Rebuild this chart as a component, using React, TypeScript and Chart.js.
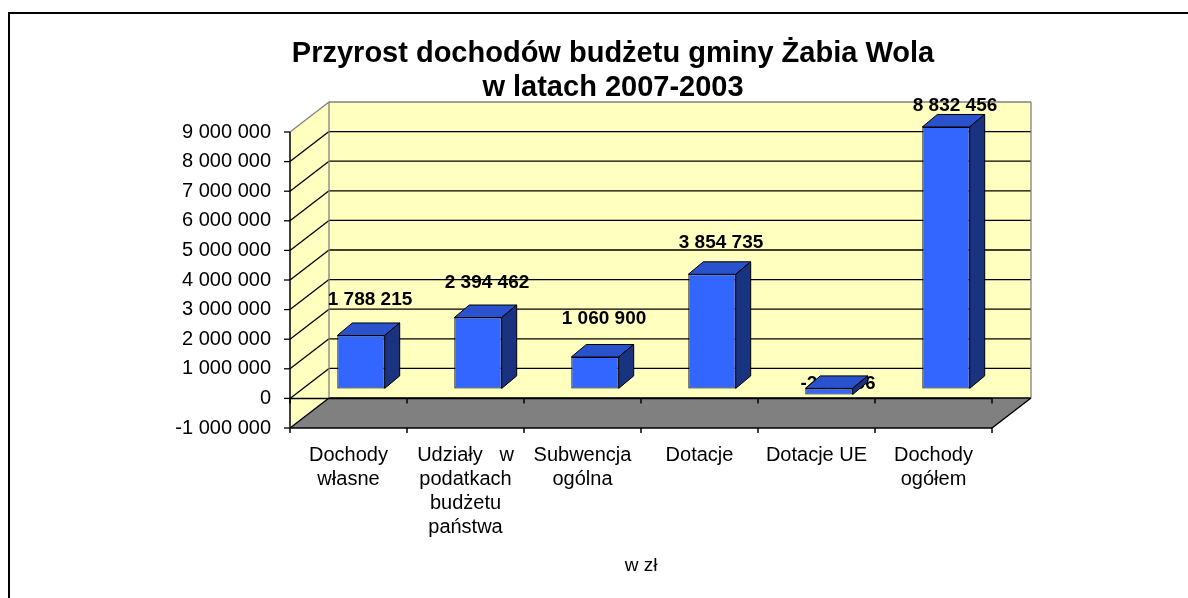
import React, { useEffect, useRef } from "react";
import { Chart, registerables } from "chart.js";

Chart.register(...registerables);

// ---- data ----
const titleLines = ["Przyrost dochodów budżetu gminy Żabia Wola", "w latach 2007-2003"];
const categories: string[][] = [
  ["Dochody", "własne"],
  ["Udziały   w", "podatkach", "budżetu", "państwa"],
  ["Subwencja", "ogólna"],
  ["Dotacje"],
  ["Dotacje UE"],
  ["Dochody", "ogółem"],
];
const values = [1788215, 2394462, 1060900, 3854735, -205256, 8832456];
const yMin = -1000000;
const yMax = 9000000;
const yStep = 1000000;
const axisTitle = "w zł";

// ---- styling / geometry ----
const FONT = "'Liberation Sans', Arial, sans-serif";
const WALL_DX = 39;
const WALL_DY = -30;
const BAR_FX = 12.5;
const BAR_FY = -10;
const BAR_DX = 15;
const BAR_DY = -12.5;
const WALL_COLOR = "#FFFFC0";
const FLOOR_COLOR = "#808080";
const EDGE_GRAY = "#808080";
const BAR_FRONT = "#3366FF";
const BAR_TOP = "#2952CC";
const BAR_SIDE = "#1A3380";

const fmt = (v: number) => {
  const s = Math.abs(Math.round(v))
    .toString()
    .replace(/\B(?=(\d{3})+(?!\d))/g, " ");
  return (v < 0 ? "-" : "") + s;
};

const line = (ctx: CanvasRenderingContext2D, x1: number, y1: number, x2: number, y2: number) => {
  ctx.beginPath();
  ctx.moveTo(x1, y1);
  ctx.lineTo(x2, y2);
  ctx.stroke();
};

const threeD = {
  id: "threeD",
  beforeDraw(chart: any) {
    const ctx = chart.ctx as CanvasRenderingContext2D;
    ctx.save();
    ctx.strokeStyle = "#000";
    ctx.lineWidth = 2;
    ctx.strokeRect(9, 13, 1400, 800);
    ctx.restore();
  },
  beforeDatasetsDraw(chart: any) {
    const ctx = chart.ctx as CanvasRenderingContext2D;
    const ca = chart.chartArea;
    const xs = chart.scales.x;
    const ys = chart.scales.y;
    const L = ca.left;
    const R = ca.right;
    const yT = ys.getPixelForValue(yMax);
    const yB = ys.getPixelForValue(yMin);
    const y0 = ys.getPixelForValue(0);
    ctx.save();
    // left wall
    ctx.fillStyle = WALL_COLOR;
    ctx.beginPath();
    ctx.moveTo(L, yT);
    ctx.lineTo(L + WALL_DX, yT + WALL_DY);
    ctx.lineTo(L + WALL_DX, yB + WALL_DY);
    ctx.lineTo(L, yB);
    ctx.closePath();
    ctx.fill();
    // back wall
    ctx.fillRect(L + WALL_DX, yT + WALL_DY, R - L, yB - yT);
    // floor
    ctx.fillStyle = FLOOR_COLOR;
    ctx.beginPath();
    ctx.moveTo(L, yB);
    ctx.lineTo(R, yB);
    ctx.lineTo(R + WALL_DX, yB + WALL_DY);
    ctx.lineTo(L + WALL_DX, yB + WALL_DY);
    ctx.closePath();
    ctx.fill();

    // gridlines
    ctx.lineWidth = 1.3;
    for (let v = yMin; v <= yMax; v += yStep) {
      const yp = ys.getPixelForValue(v);
      ctx.strokeStyle = v === yMax ? EDGE_GRAY : "#000";
      line(ctx, L, yp, L + WALL_DX, yp + WALL_DY);
      line(ctx, L + WALL_DX, yp + WALL_DY, R + WALL_DX, yp + WALL_DY);
      ctx.strokeStyle = "#000";
      line(ctx, L - 6, yp, L, yp);
    }
    // gray back edges
    ctx.strokeStyle = EDGE_GRAY;
    line(ctx, L + WALL_DX, yT + WALL_DY, L + WALL_DX, yB + WALL_DY);
    line(ctx, R + WALL_DX, yT + WALL_DY, R + WALL_DX, yB + WALL_DY);
    // front axes
    ctx.strokeStyle = "#000";
    ctx.lineWidth = 1.5;
    line(ctx, L, yT, L, yB);
    line(ctx, L, y0, R, y0);
    line(ctx, L, yB, R, yB);
    line(ctx, R, yB, R + WALL_DX, yB + WALL_DY);
    const n = categories.length;
    const w = (R - L) / n;
    for (let i = 0; i <= n; i++) {
      const xp = i < n ? xs.getPixelForValue(i) - w / 2 : xs.getPixelForValue(n - 1) + w / 2;
      line(ctx, xp, y0, xp, y0 + 5);
      line(ctx, xp, yB, xp, yB + 5);
    }

    // data labels (drawn under the bars)
    const meta = chart.getDatasetMeta(0);
    ctx.fillStyle = "#000";
    ctx.font = `bold 19px ${FONT}`;
    ctx.textAlign = "center";
    ctx.textBaseline = "middle";
    meta.data.forEach((el: any, i: number) => {
      const v = values[i];
      const top = Math.min(el.y, el.base) + BAR_FY;
      const h = Math.abs(el.base - el.y);
      const ly = v >= 0 ? top - (40 - 0.072 * h) : top - 5;
      ctx.fillText(fmt(v), el.x + BAR_FX + 9, ly);
    });
    ctx.restore();

    ctx.save();
    ctx.translate(BAR_FX, BAR_FY);
  },
  afterDatasetsDraw(chart: any) {
    const ctx = chart.ctx as CanvasRenderingContext2D;
    ctx.restore();
    const meta = chart.getDatasetMeta(0);
    ctx.save();
    ctx.strokeStyle = "#000";
    ctx.lineWidth = 1;
    ctx.lineJoin = "round";
    meta.data.forEach((el: any) => {
      const left = el.x - el.width / 2 + BAR_FX;
      const right = el.x + el.width / 2 + BAR_FX;
      const top = Math.min(el.y, el.base) + BAR_FY;
      const bot = Math.max(el.y, el.base) + BAR_FY;
      // top face
      ctx.fillStyle = BAR_TOP;
      ctx.beginPath();
      ctx.moveTo(left, top);
      ctx.lineTo(left + BAR_DX, top + BAR_DY);
      ctx.lineTo(right + BAR_DX, top + BAR_DY);
      ctx.lineTo(right, top);
      ctx.closePath();
      ctx.fill();
      ctx.stroke();
      // side face
      ctx.fillStyle = BAR_SIDE;
      ctx.beginPath();
      ctx.moveTo(right, top);
      ctx.lineTo(right + BAR_DX, top + BAR_DY);
      ctx.lineTo(right + BAR_DX, bot + BAR_DY);
      ctx.lineTo(right, bot);
      ctx.closePath();
      ctx.fill();
      ctx.stroke();
    });
    ctx.restore();
  },
};

export default function App() {
  const ref = useRef<HTMLCanvasElement>(null);
  useEffect(() => {
    const chart = new Chart(ref.current as HTMLCanvasElement, {
      type: "bar",
      data: {
        labels: categories,
        datasets: [
          {
            data: values,
            backgroundColor: BAR_FRONT,
            borderColor: "#000",
            borderWidth: 1,
            borderSkipped: false,
            categoryPercentage: 1,
            barPercentage: 0.405,
          },
        ],
      },
      options: {
        responsive: false,
        animation: false,
        events: [],
        layout: { padding: { top: 24, left: 38, right: 0, bottom: 0 } },
        plugins: {
          legend: { display: false },
          tooltip: { enabled: false },
          title: {
            display: true,
            text: titleLines,
            color: "#000",
            font: { family: FONT, size: 29, weight: "bold", lineHeight: 34 / 29 },
            padding: { top: 13, bottom: 27 },
          },
        },
        scales: {
          x: {
            offset: true,
            grid: { display: false },
            border: { display: false },
            ticks: {
              color: "#000",
              font: { family: FONT, size: 20, lineHeight: 24 / 20 },
              padding: 7,
              maxRotation: 0,
              minRotation: 0,
              autoSkip: false,
            },
            title: {
              display: true,
              text: axisTitle,
              color: "#000",
              font: { family: FONT, size: 19 },
              padding: { top: 0, bottom: 21 },
            },
            afterFit: (s: any) => {
              s.height = 170;
            },
          },
          y: {
            min: yMin,
            max: yMax,
            grid: { display: false },
            border: { display: false },
            ticks: {
              stepSize: yStep,
              color: "#000",
              font: { family: FONT, size: 20 },
              padding: 11,
              callback: (v: any) => fmt(Number(v)),
            },
            afterFit: (s: any) => {
              s.width = 252;
            },
          },
          yRight: {
            position: "right",
            min: yMin,
            max: yMax,
            grid: { display: false },
            border: { display: false },
            ticks: { display: false },
            afterFit: (s: any) => {
              s.width = 196;
            },
          },
        },
      },
      plugins: [threeD],
    } as any);
    return () => chart.destroy();
  }, []);
  return (
    <canvas
      ref={ref}
      width={1188}
      height={598}
      style={{ position: "absolute", left: 0, top: 0, width: 1188, height: 598 }}
    />
  );
}
